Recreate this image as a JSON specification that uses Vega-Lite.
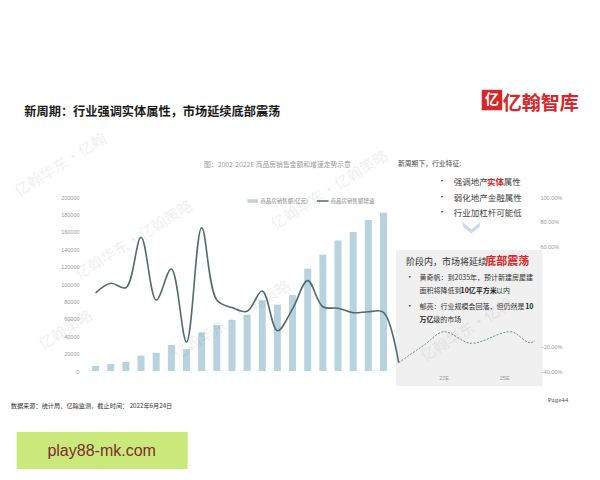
{
  "$schema": "https://vega.github.io/schema/vega-lite/v6.json",
  "width": 457,
  "height": 174,
  "autosize": {"type": "none"},
  "padding": {"left": 83, "top": 197, "right": 60, "bottom": 109},
  "background": "white",
  "config": {"view": {"stroke": null}, "font": "Noto Sans CJK SC"},
  "resolve": {"scale": {"y": "independent"}},
  "layer": [
    {
      "data": {"values": [{"x1": 2021.83, "x2": 2031.5, "y1": 57.4, "y2": -52.1}]},
      "mark": {"type": "rect", "color": "#f0f0f0"},
      "encoding": {
        "x": {"field": "x1", "type": "quantitative", "scale": {"domain": [2001.5, 2031], "nice": false, "zero": false}, "axis": null},
        "x2": {"field": "x2"},
        "y": {"field": "y1", "type": "quantitative", "scale": {"domain": [-40, 100], "nice": false, "zero": false}, "axis": null},
        "y2": {"field": "y2"}
      }
    },
    {
      "data": {"values": [
        {"year": 2002, "sales": 5866}, {"year": 2003, "sales": 7956}, {"year": 2004, "sales": 10376},
        {"year": 2005, "sales": 17576}, {"year": 2006, "sales": 20826}, {"year": 2007, "sales": 29889},
        {"year": 2008, "sales": 25068}, {"year": 2009, "sales": 44355}, {"year": 2010, "sales": 52721},
        {"year": 2011, "sales": 58589}, {"year": 2012, "sales": 64456}, {"year": 2013, "sales": 81428},
        {"year": 2014, "sales": 76292}, {"year": 2015, "sales": 87281}, {"year": 2016, "sales": 117627},
        {"year": 2017, "sales": 133701}, {"year": 2018, "sales": 149973}, {"year": 2019, "sales": 159725},
        {"year": 2020, "sales": 173613}, {"year": 2021, "sales": 181930}
      ]},
      "mark": {"type": "bar", "size": 7, "color": "#b8d3df"},
      "encoding": {
        "x": {"field": "year", "type": "quantitative",
          "scale": {"domain": [2001.5, 2031], "nice": false, "zero": false},
          "axis": {"values": [2002,2003,2004,2005,2006,2007,2008,2009,2010,2011,2012,2013,2014,2015,2016,2017,2018,2019,2020,2021],
            "format": "d", "labelFontSize": 5.5, "labelColor": "#888", "labelFont": "Liberation Sans",
            "domain": true, "domainColor": "#e3e3e3", "ticks": false, "grid": false, "labelPadding": 4,
            "title": null, "labelFlush": false, "labelOverlap": false}},
        "y": {"field": "sales", "type": "quantitative",
          "scale": {"domain": [0, 200000], "nice": false},
          "axis": {"orient": "left", "values": [0,20000,40000,60000,80000,100000,120000,140000,160000,180000,200000],
            "format": "d", "labelFontSize": 5.5, "labelColor": "#999", "labelFont": "Liberation Sans",
            "domain": false, "ticks": false, "grid": false, "labelPadding": 4, "title": null}}
      }
    },
    {
      "data": {"values": [
        {"year": 2002, "growth": 22.8}, {"year": 2003, "growth": 30.6}, {"year": 2004, "growth": 27.0},
        {"year": 2005, "growth": 67.6}, {"year": 2006, "growth": 17.1}, {"year": 2007, "growth": 42.1},
        {"year": 2008, "growth": -16.7}, {"year": 2009, "growth": 75.3}, {"year": 2010, "growth": 17.1},
        {"year": 2011, "growth": 11.0}, {"year": 2012, "growth": 8.0}, {"year": 2013, "growth": 24.4},
        {"year": 2014, "growth": -7.6}, {"year": 2015, "growth": 10.0}, {"year": 2016, "growth": 32.7},
        {"year": 2017, "growth": 11.7}, {"year": 2018, "growth": 10.5}, {"year": 2019, "growth": 6.9},
        {"year": 2020, "growth": 7.7}, {"year": 2021, "growth": 7.2}, {"year": 2022, "growth": -33.3}
      ]},
      "mark": {"type": "line", "interpolate": "catmull-rom", "color": "#4e6d70", "strokeWidth": 1.6},
      "encoding": {
        "x": {"field": "year", "type": "quantitative", "axis": null},
        "y": {"field": "growth", "type": "quantitative",
          "scale": {"domain": [-40, 100], "nice": false, "zero": false},
          "axis": {"orient": "right", "values": [100, 80, 60, -20, -40],
            "labelExpr": "format(datum.value, '.2f') + '%'", "labelFontSize": 5.5, "labelColor": "#999",
            "labelFont": "Liberation Sans", "domain": false, "ticks": false, "grid": false,
            "labelPadding": 0, "title": null, "zindex": 1}}
      }
    },
    {
      "data": {"values": [
        {"period": 2022, "growth": -33.3}, {"period": 2023.7, "growth": -19.0}, {"period": 2025, "growth": -8.4},
        {"period": 2026.8, "growth": -17.7}, {"period": 2029.4, "growth": -8.4}, {"period": 2030.7, "growth": -17.2},
        {"period": 2031, "growth": -15.6}
      ]},
      "mark": {"type": "line", "interpolate": "monotone", "color": "#6d8787", "strokeWidth": 1, "strokeDash": [2, 1.5]},
      "encoding": {
        "x": {"field": "period", "type": "quantitative", "axis": null},
        "y": {"field": "growth", "type": "quantitative", "scale": {"domain": [-40, 100], "nice": false, "zero": false}, "axis": null}
      }
    },
    {
      "data": {"values": [{"x1": 1996.79, "x2": 2008.08, "y1": -89.07, "y2": -118.84}]},
      "mark": {"type": "rect", "color": "#cbe97b"},
      "encoding": {
        "x": {"field": "x1", "type": "quantitative", "axis": null},
        "x2": {"field": "x2"},
        "y": {"field": "y1", "type": "quantitative", "scale": {"domain": [-40, 100], "nice": false, "zero": false}, "axis": null},
        "y2": {"field": "y2"}
      }
    },
    {
      "data": {"values": [{"x1": 2012.02, "x2": 2012.73, "y": 96.78}]},
      "mark": {"type": "rule", "color": "#b8d3df", "strokeWidth": 3.5},
      "encoding": {
        "x": {"field": "x1", "type": "quantitative", "axis": null},
        "x2": {"field": "x2"},
        "y": {"field": "y", "type": "quantitative", "scale": {"domain": [-40, 100], "nice": false, "zero": false}, "axis": null}
      }
    },
    {
      "data": {"values": [{"x1": 2016.6, "x2": 2017.38, "y": 96.78}]},
      "mark": {"type": "rule", "color": "#4e6d70", "strokeWidth": 1.5},
      "encoding": {
        "x": {"field": "x1", "type": "quantitative", "axis": null},
        "x2": {"field": "x2"},
        "y": {"field": "y", "type": "quantitative", "scale": {"domain": [-40, 100], "nice": false, "zero": false}, "axis": null}
      }
    },
    {
      "data": {"values": [
        {"x": 2012.86, "y": 96.78, "label": "商品房销售额(亿元)"},
        {"x": 2017.51, "y": 96.78, "label": "商品房销售额增速"}
      ]},
      "mark": {"type": "text", "align": "left", "baseline": "middle", "fontSize": 5.5, "color": "#888"},
      "encoding": {
        "x": {"field": "x", "type": "quantitative", "axis": null},
        "y": {"field": "y", "type": "quantitative", "scale": {"domain": [-40, 100], "nice": false, "zero": false}, "axis": null},
        "text": {"field": "label"}
      }
    },
    {
      "data": {"values": [{"x": 2025, "y": -45.6, "label": "22E"}, {"x": 2029, "y": -45.6, "label": "25E"}]},
      "mark": {"type": "text", "align": "center", "baseline": "middle", "fontSize": 5.5, "color": "#999", "font": "Liberation Sans"},
      "encoding": {
        "x": {"field": "x", "type": "quantitative", "axis": null},
        "y": {"field": "y", "type": "quantitative", "scale": {"domain": [-40, 100], "nice": false, "zero": false}, "axis": null},
        "text": {"field": "label"}
      }
    },
    {
      "data": {"values": [{"x": 1997.3, "y": 168.4, "label": "新周期：行业强调实体属性，市场延续底部震荡"}]},
      "mark": {"type": "text", "align": "left", "baseline": "middle", "fontSize": 12.2, "fontWeight": "bold", "color": "#1a1a1a"},
      "encoding": {
        "x": {"field": "x", "type": "quantitative", "axis": null},
        "y": {"field": "y", "type": "quantitative", "scale": {"domain": [-40, 100], "nice": false, "zero": false}, "axis": null},
        "text": {"field": "label"}
      }
    },
    {
      "data": {"values": [{"x": 2028.16, "y": 178.0}]},
      "mark": {"type": "point", "shape": "square", "size": 420, "filled": true, "color": "#d8262b", "opacity": 1},
      "encoding": {
        "x": {"field": "x", "type": "quantitative", "axis": null},
        "y": {"field": "y", "type": "quantitative", "scale": {"domain": [-40, 100], "nice": false, "zero": false}, "axis": null}
      }
    },
    {
      "data": {"values": [{"x": 2028.16, "y": 178.0, "label": "亿"}]},
      "mark": {"type": "text", "align": "center", "baseline": "middle", "fontSize": 14, "fontWeight": "bold", "color": "white"},
      "encoding": {
        "x": {"field": "x", "type": "quantitative", "axis": null},
        "y": {"field": "y", "type": "quantitative", "scale": {"domain": [-40, 100], "nice": false, "zero": false}, "axis": null},
        "text": {"field": "label"}
      }
    },
    {
      "data": {"values": [{"x": 2028.87, "y": 174.8, "label": "亿翰智库"}]},
      "mark": {"type": "text", "align": "left", "baseline": "middle", "fontSize": 19, "fontWeight": "bold", "color": "#d8262b"},
      "encoding": {
        "x": {"field": "x", "type": "quantitative", "axis": null},
        "y": {"field": "y", "type": "quantitative", "scale": {"domain": [-40, 100], "nice": false, "zero": false}, "axis": null},
        "text": {"field": "label"}
      }
    },
    {
      "data": {"values": [{"x": 2009.16, "y": 125.75, "label": "图：2002-2022E 商品房销售金额和增速走势示意"}]},
      "mark": {"type": "text", "align": "left", "baseline": "middle", "fontSize": 6.8, "color": "#999"},
      "encoding": {
        "x": {"field": "x", "type": "quantitative", "axis": null},
        "y": {"field": "y", "type": "quantitative", "scale": {"domain": [-40, 100], "nice": false, "zero": false}, "axis": null},
        "text": {"field": "label"}
      }
    },
    {
      "data": {"values": [{"x": 2021.96, "y": 126.55, "label": "新周期下，行业特征:"}]},
      "mark": {"type": "text", "align": "left", "baseline": "middle", "fontSize": 6.8, "color": "#444"},
      "encoding": {
        "x": {"field": "x", "type": "quantitative", "axis": null},
        "y": {"field": "y", "type": "quantitative", "scale": {"domain": [-40, 100], "nice": false, "zero": false}, "axis": null},
        "text": {"field": "label"}
      }
    },
    {
      "data": {"values": [
        {"x": 2024.87, "y": 112.07, "label": "•"}, {"x": 2024.87, "y": 99.2, "label": "•"}, {"x": 2024.87, "y": 87.13, "label": "•"},
        {"x": 2022.74, "y": 34.83, "label": "•"}, {"x": 2022.74, "y": 11.5, "label": "•"}
      ]},
      "mark": {"type": "text", "align": "center", "baseline": "middle", "fontSize": 8, "color": "#333"},
      "encoding": {
        "x": {"field": "x", "type": "quantitative", "axis": null},
        "y": {"field": "y", "type": "quantitative", "scale": {"domain": [-40, 100], "nice": false, "zero": false}, "axis": null},
        "text": {"field": "label"}
      }
    },
    {
      "data": {"values": [
        {"x": 2025.64, "y": 112.07, "label": "强调地产"},
        {"x": 2028.93, "y": 112.07, "label": "属性"},
        {"x": 2025.64, "y": 99.2, "label": "弱化地产金融属性"},
        {"x": 2025.64, "y": 87.13, "label": "行业加杠杆可能低"}
      ]},
      "mark": {"type": "text", "align": "left", "baseline": "middle", "fontSize": 8.5, "color": "#444"},
      "encoding": {
        "x": {"field": "x", "type": "quantitative", "axis": null},
        "y": {"field": "y", "type": "quantitative", "scale": {"domain": [-40, 100], "nice": false, "zero": false}, "axis": null},
        "text": {"field": "label"}
      }
    },
    {
      "data": {"values": [{"x": 2027.84, "y": 112.07, "label": "实体"}]},
      "mark": {"type": "text", "align": "left", "baseline": "middle", "fontSize": 8.5, "fontWeight": "bold", "color": "#d9262b"},
      "encoding": {
        "x": {"field": "x", "type": "quantitative", "axis": null},
        "y": {"field": "y", "type": "quantitative", "scale": {"domain": [-40, 100], "nice": false, "zero": false}, "axis": null},
        "text": {"field": "label"}
      }
    },
    {
      "data": {"values": [{"x": 2026.8, "y": 75.46}]},
      "mark": {"type": "point", "shape": "M-1,-0.6L0,0.2L1,-0.6L1,-0.1L0,0.7L-1,-0.1Z", "size": 290, "filled": true, "color": "#c9dbe8", "opacity": 1},
      "encoding": {
        "x": {"field": "x", "type": "quantitative", "axis": null},
        "y": {"field": "y", "type": "quantitative", "scale": {"domain": [-40, 100], "nice": false, "zero": false}, "axis": null}
      }
    },
    {
      "data": {"values": [{"x": 2022.48, "y": 47.7, "label": "阶段内，市场将延续"}]},
      "mark": {"type": "text", "align": "left", "baseline": "middle", "fontSize": 9, "color": "#333"},
      "encoding": {
        "x": {"field": "x", "type": "quantitative", "axis": null},
        "y": {"field": "y", "type": "quantitative", "scale": {"domain": [-40, 100], "nice": false, "zero": false}, "axis": null},
        "text": {"field": "label"}
      }
    },
    {
      "data": {"values": [{"x": 2027.71, "y": 47.7, "label": "底部震荡"}]},
      "mark": {"type": "text", "align": "left", "baseline": "middle", "fontSize": 11, "fontWeight": "bold", "color": "#e0262a"},
      "encoding": {
        "x": {"field": "x", "type": "quantitative", "axis": null},
        "y": {"field": "y", "type": "quantitative", "scale": {"domain": [-40, 100], "nice": false, "zero": false}, "axis": null},
        "text": {"field": "label"}
      }
    },
    {
      "data": {"values": [
        {"x": 2023.38, "y": 34.83, "label": "黄奇帆：到2035年，预计新建房屋建"},
        {"x": 2023.38, "y": 24.37, "label": "面积将降低到"},
        {"x": 2028.42, "y": 24.37, "label": "以内"},
        {"x": 2023.38, "y": 11.5, "label": "郁亮：行业规模会回落，但仍然是"},
        {"x": 2024.29, "y": 1.04, "label": "级的市场"}
      ]},
      "mark": {"type": "text", "align": "left", "baseline": "middle", "fontSize": 7, "color": "#333"},
      "encoding": {
        "x": {"field": "x", "type": "quantitative", "axis": null},
        "y": {"field": "y", "type": "quantitative", "scale": {"domain": [-40, 100], "nice": false, "zero": false}, "axis": null},
        "text": {"field": "label"}
      }
    },
    {
      "data": {"values": [
        {"x": 2026.09, "y": 24.37, "label": "10亿平方米"},
        {"x": 2030.35, "y": 11.5, "label": "10"},
        {"x": 2023.38, "y": 1.04, "label": "万亿"}
      ]},
      "mark": {"type": "text", "align": "left", "baseline": "middle", "fontSize": 7, "fontWeight": "bold", "color": "#222"},
      "encoding": {
        "x": {"field": "x", "type": "quantitative", "axis": null},
        "y": {"field": "y", "type": "quantitative", "scale": {"domain": [-40, 100], "nice": false, "zero": false}, "axis": null},
        "text": {"field": "label"}
      }
    },
    {
      "data": {"values": [{"x": 1996.4, "y": -68.16, "label": "数据来源：统计局、亿翰监测，截止时间： 2022年6月24日"}]},
      "mark": {"type": "text", "align": "left", "baseline": "middle", "fontSize": 6.2, "color": "#333"},
      "encoding": {
        "x": {"field": "x", "type": "quantitative", "axis": null},
        "y": {"field": "y", "type": "quantitative", "scale": {"domain": [-40, 100], "nice": false, "zero": false}, "axis": null},
        "text": {"field": "label"}
      }
    },
    {
      "data": {"values": [{"x": 2031.84, "y": -63.33, "label": "Page44"}]},
      "mark": {"type": "text", "align": "left", "baseline": "middle", "fontSize": 7, "color": "#555", "font": "Liberation Serif"},
      "encoding": {
        "x": {"field": "x", "type": "quantitative", "axis": null},
        "y": {"field": "y", "type": "quantitative", "scale": {"domain": [-40, 100], "nice": false, "zero": false}, "axis": null},
        "text": {"field": "label"}
      }
    },
    {
      "data": {"values": [{"x": 2002.4, "y": -104.36, "label": "play88-mk.com"}]},
      "mark": {"type": "text", "align": "center", "baseline": "middle", "fontSize": 16, "color": "#7a2e2e", "font": "Liberation Sans"},
      "encoding": {
        "x": {"field": "x", "type": "quantitative", "axis": null},
        "y": {"field": "y", "type": "quantitative", "scale": {"domain": [-40, 100], "nice": false, "zero": false}, "axis": null},
        "text": {"field": "label"}
      }
    },
    {
      "data": {"values": [
        {"x": 1999.69, "y": 125.75, "label": "亿翰华东·亿翰"},
        {"x": 2004.53, "y": 65.4, "label": "亿翰华东·亿翰策略"},
        {"x": 2017.44, "y": 105.63, "label": "亿翰华东·亿翰策略"},
        {"x": 2010.99, "y": 1.04, "label": "亿翰华东·亿翰策略"},
        {"x": 2026.48, "y": -7.01, "label": "亿翰华东·亿翰"},
        {"x": 2000.02, "y": -7.01, "label": "亿翰策略"}
      ]},
      "mark": {"type": "text", "align": "center", "baseline": "middle", "fontSize": 15, "angle": -32, "color": "#000", "opacity": 0.06},
      "encoding": {
        "x": {"field": "x", "type": "quantitative", "axis": null},
        "y": {"field": "y", "type": "quantitative", "scale": {"domain": [-40, 100], "nice": false, "zero": false}, "axis": null},
        "text": {"field": "label"}
      }
    }
  ]
}
